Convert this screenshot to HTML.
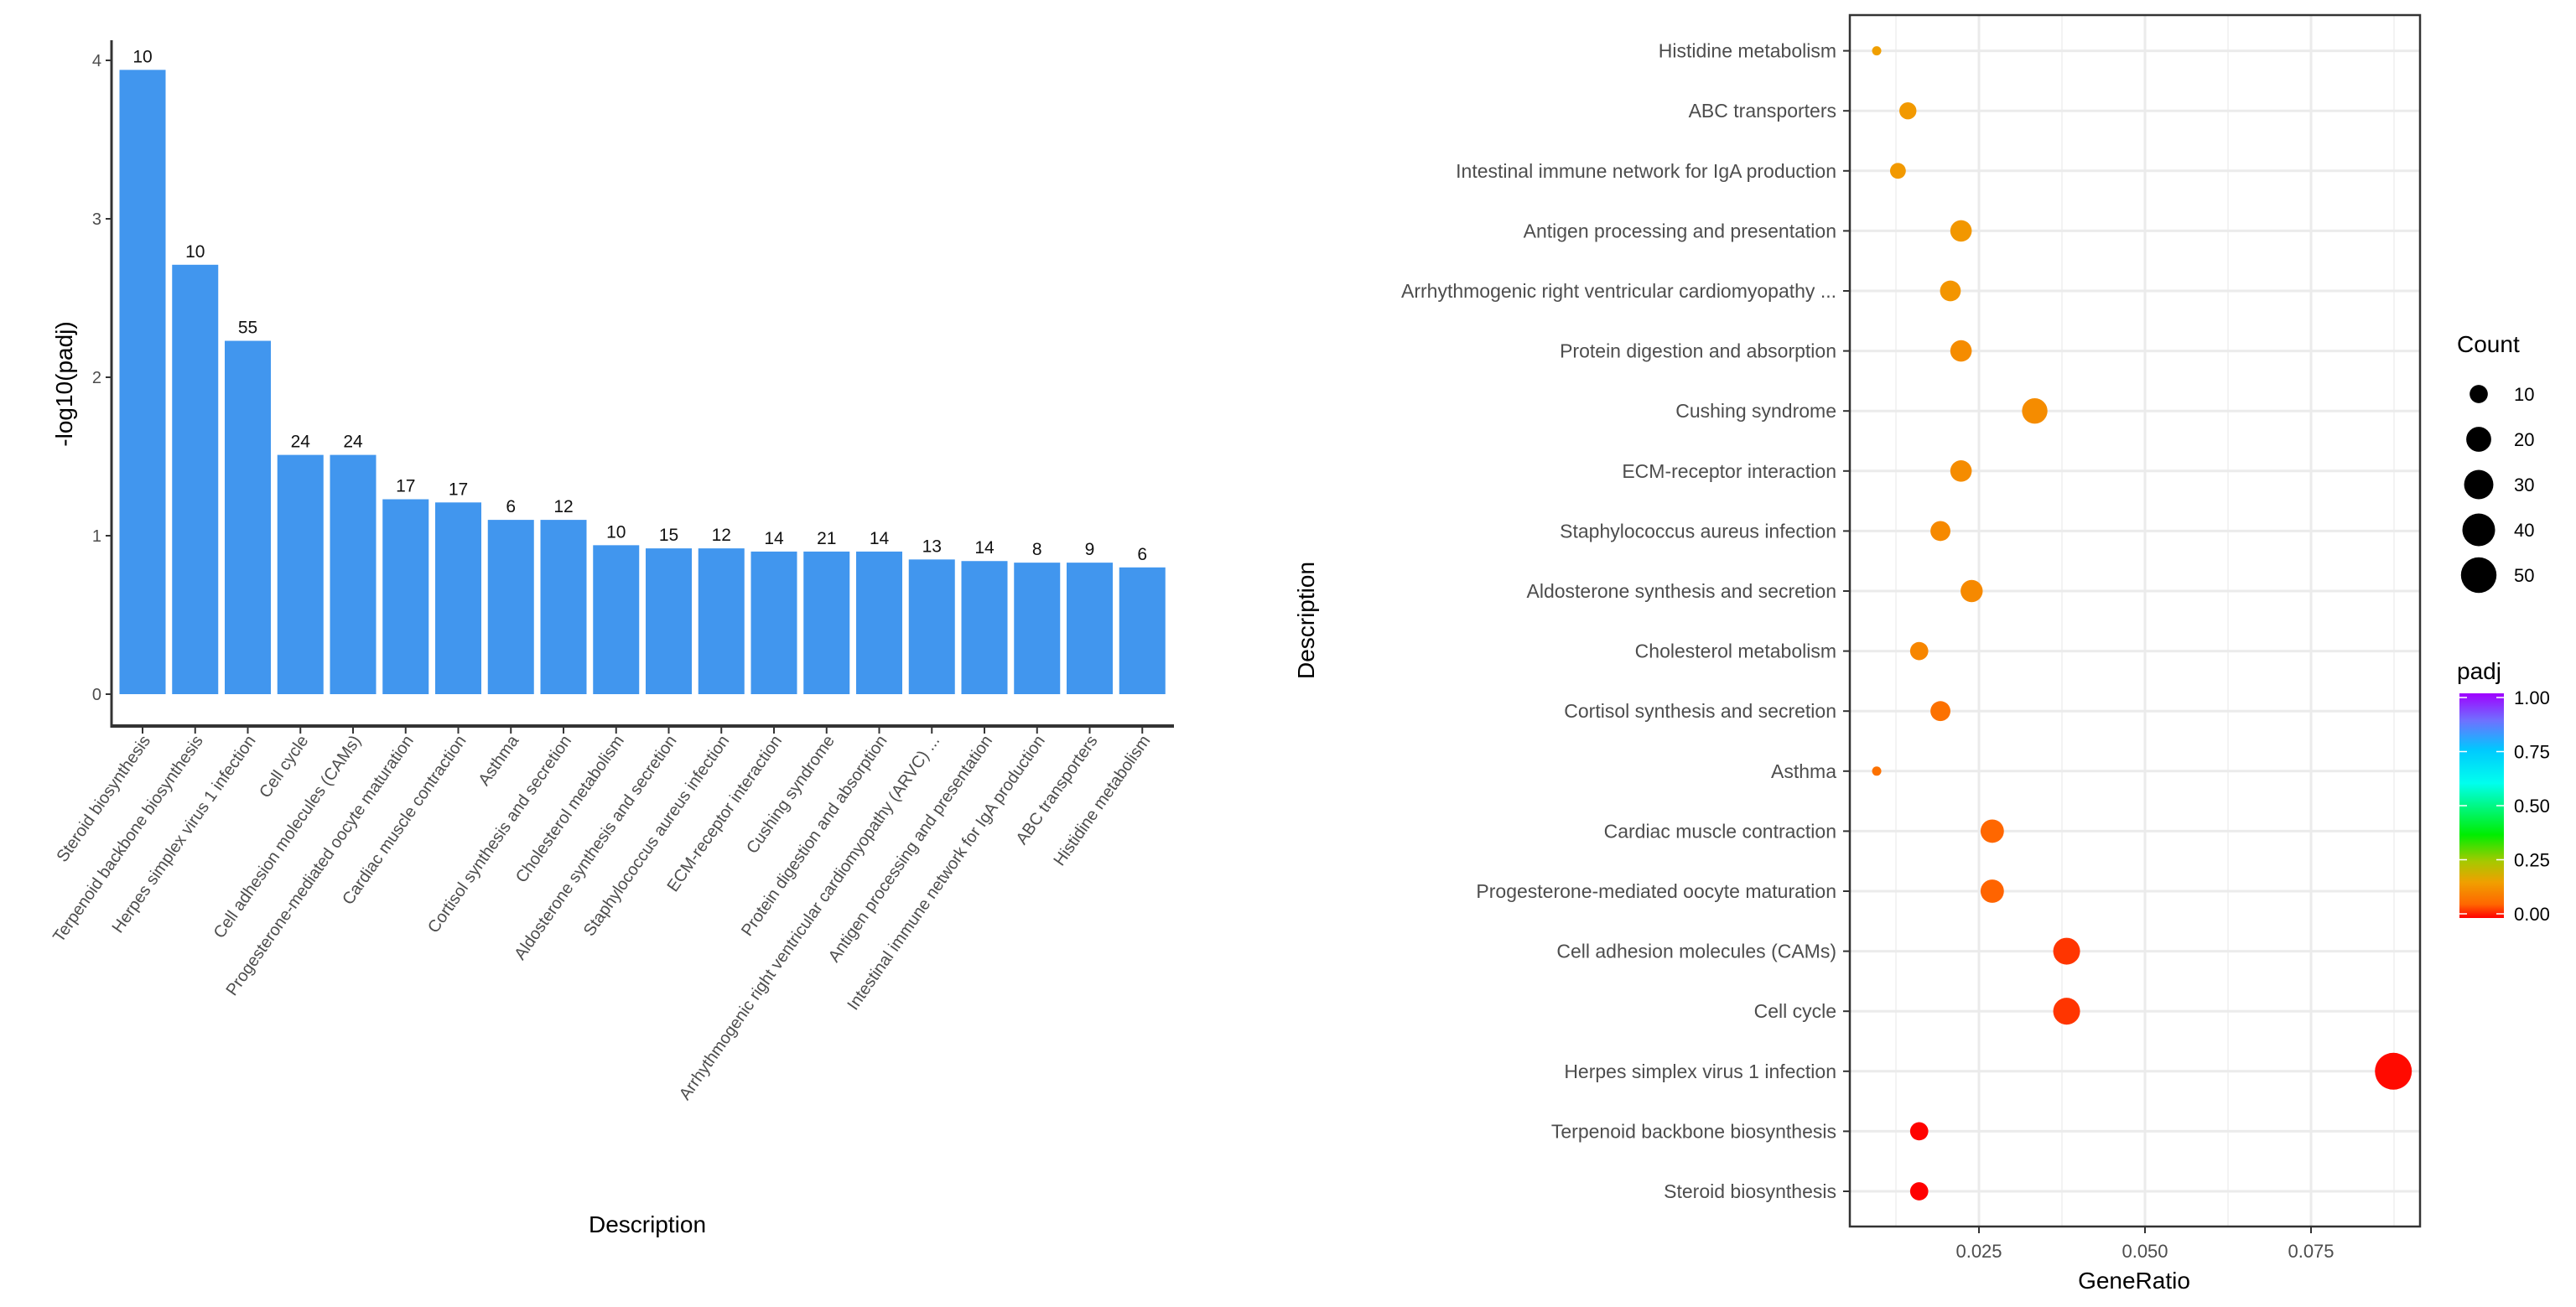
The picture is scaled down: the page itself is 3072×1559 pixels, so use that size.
<!DOCTYPE html>
<html><head><meta charset="utf-8"><style>
html,body{margin:0;padding:0;background:#fff;}
svg{display:block;font-family:"Liberation Sans",Arial,sans-serif;}
</style></head><body>
<svg id="chart" width="3072" height="1559" viewBox="0 0 3072 1559" xmlns="http://www.w3.org/2000/svg">
<defs>
<linearGradient id="padjGrad" x1="0" y1="1" x2="0" y2="0">
<stop offset="0" stop-color="#ff0000"/><stop offset="0.06" stop-color="#ff6600"/><stop offset="0.16" stop-color="#f0a000"/><stop offset="0.25" stop-color="#a8c800"/><stop offset="0.37" stop-color="#00ee00"/><stop offset="0.6" stop-color="#00ffee"/><stop offset="0.75" stop-color="#00c8ff"/><stop offset="0.88" stop-color="#7070ff"/><stop offset="1" stop-color="#a000ff"/>
</linearGradient>
</defs>
<g id="bar"></g>
<g id="dot"></g>
</svg>
<script>
const categories = ["Steroid biosynthesis","Terpenoid backbone biosynthesis","Herpes simplex virus 1 infection","Cell cycle","Cell adhesion molecules (CAMs)","Progesterone-mediated oocyte maturation","Cardiac muscle contraction","Asthma","Cortisol synthesis and secretion","Cholesterol metabolism","Aldosterone synthesis and secretion","Staphylococcus aureus infection","ECM-receptor interaction","Cushing syndrome","Protein digestion and absorption","Arrhythmogenic right ventricular cardiomyopathy (ARVC) ...","Antigen processing and presentation","Intestinal immune network for IgA production","ABC transporters","Histidine metabolism"];
const dotLabels = ["Steroid biosynthesis","Terpenoid backbone biosynthesis","Herpes simplex virus 1 infection","Cell cycle","Cell adhesion molecules (CAMs)","Progesterone-mediated oocyte maturation","Cardiac muscle contraction","Asthma","Cortisol synthesis and secretion","Cholesterol metabolism","Aldosterone synthesis and secretion","Staphylococcus aureus infection","ECM-receptor interaction","Cushing syndrome","Protein digestion and absorption","Arrhythmogenic right ventricular cardiomyopathy ...","Antigen processing and presentation","Intestinal immune network for IgA production","ABC transporters","Histidine metabolism"];
const negLogPadj = [3.94,2.71,2.23,1.51,1.51,1.23,1.21,1.10,1.10,0.94,0.92,0.92,0.90,0.90,0.90,0.85,0.84,0.83,0.83,0.80];
const counts = [10,10,55,24,24,17,17,6,12,10,15,12,14,21,14,13,14,8,9,6];
const geneRatio = [0.0160,0.0160,0.0874,0.0382,0.0382,0.0270,0.0270,0.0096,0.0192,0.0160,0.0239,0.0192,0.0223,0.0334,0.0223,0.0207,0.0223,0.0128,0.0143,0.0096];
const yTicks = [0,1,2,3,4];
const xTicks = [0.025,0.050,0.075];
const xTickLabels = ["0.025","0.050","0.075"];
const xMinor = [0.0125,0.0375,0.0625,0.0875];
const sizeLegend = [10,20,30,40,50];
const padjTicks = [0,0.25,0.5,0.75,1];
const padjTickLabels = ["0.00","0.25","0.50","0.75","1.00"];

const NS="http://www.w3.org/2000/svg";
function mk(tag, attrs, parent, text){const e=document.createElementNS(NS,tag);for(const k in attrs)e.setAttribute(k,attrs[k]);if(text!==undefined)e.textContent=text;parent.appendChild(e);return e;}

// ---------- Bar chart ----------
const bar=document.getElementById('bar');
const bx0=170, bstep=62.75, bw=55;
const by0=828, byUnit=189;
const bxPos=i=>bx0+i*bstep;
const byPos=v=>by0-v*byUnit;
let e=mk('line',{x1:133,y1:48,x2:133,y2:868,stroke:'#333',"stroke-width":3},bar);

e=mk('line',{x1:131.5,y1:866,x2:1400,y2:866,stroke:'#333',"stroke-width":4},bar);

yTicks.forEach(t=>{
  const y=byPos(t);
  let l=mk('line',{x1:126,y1:y,x2:133,y2:y,stroke:'#333',"stroke-width":2},bar);
  
  let tx=mk('text',{x:121,y:y+7,"text-anchor":"end","font-size":20,fill:'#4d4d4d'},bar,String(t));
  
});
categories.forEach((c,i)=>{
  const x=bxPos(i), v=negLogPadj[i];
  let r=mk('rect',{x:x-bw/2,y:byPos(v),width:bw,height:by0-byPos(v),fill:'#4196ee'},bar);
  
  let lb=mk('text',{x:x,y:byPos(v)-9,"text-anchor":"middle","font-size":21,fill:'#111'},bar,String(counts[i]));
  
  let tk=mk('line',{x1:x,y1:866,x2:x,y2:875,stroke:'#333',"stroke-width":2},bar);
  
  let tl=mk('text',{x:0,y:0,"text-anchor":"end","font-size":20,fill:'#4d4d4d',transform:`translate(${x+10},${883}) rotate(-55)`},bar,c);
  
});
e=mk('text',{x:0,y:0,"text-anchor":"middle","font-size":28,fill:'#000',transform:'translate(86,458) rotate(-90)'},bar,'-log10(padj)');

e=mk('text',{x:772,y:1470,"text-anchor":"middle","font-size":28,fill:'#000'},bar,'Description');


// ---------- Dot chart ----------
const dot=document.getElementById('dot');
const pL=2206,pR=2886,pT=18,pB=1463;
const xPos=v=>2360+(v-0.025)*7920;
const rowY=i=>1421-i*71.6;
function colorStops(){return [[0,[255,0,0]],[0.06,[255,102,0]],[0.16,[240,160,0]],[0.25,[168,200,0]],[0.37,[0,238,0]],[0.6,[0,255,238]],[0.75,[0,200,255]],[0.88,[112,112,255]],[1,[160,0,255]]];}
function padjColor(p){const s=colorStops();for(let k=1;k<s.length;k++){if(p<=s[k][0]){const t=(p-s[k-1][0])/(s[k][0]-s[k-1][0]);const c=s[k-1][1].map((a,j)=>Math.round(a+(s[k][1][j]-a)*t));return `rgb(${c})`;}}return 'rgb(160,0,255)';}
const rad=c=>5.5+16.5*Math.pow(Math.max(c-6,0)/49,0.45);
e=mk('rect',{x:pL,y:pT,width:pR-pL,height:pB-pT,fill:'#fff'},dot);

xMinor.forEach(v=>{const x=xPos(v);if(x>pL&&x<pR){let g=mk('line',{x1:x,y1:pT,x2:x,y2:pB,stroke:'#f3f3f3',"stroke-width":2},dot);}});
xTicks.forEach(v=>{const x=xPos(v);let g=mk('line',{x1:x,y1:pT,x2:x,y2:pB,stroke:'#ebebeb',"stroke-width":3},dot);});
dotLabels.forEach((c,i)=>{const y=rowY(i);let g=mk('line',{x1:pL,y1:y,x2:pR,y2:y,stroke:'#ebebeb',"stroke-width":3},dot);});
dotLabels.forEach((c,i)=>{
  const y=rowY(i);
  let t=mk('line',{x1:2198,y1:y,x2:pL,y2:y,stroke:'#333',"stroke-width":2},dot);
  
  let l=mk('text',{x:2190,y:y+8,"text-anchor":"end","font-size":23,fill:'#4d4d4d'},dot,c);
  
  const p=Math.pow(10,-negLogPadj[i]);
  let ci=mk('circle',{cx:xPos(geneRatio[i]),cy:y,r:rad(counts[i]),fill:padjColor(p)},dot);
  
});
e=mk('rect',{x:pL,y:pT,width:pR-pL,height:pB-pT,fill:'none',stroke:'#333',"stroke-width":2.5},dot);

xTicks.forEach((v,k)=>{const x=xPos(v);
  let t=mk('line',{x1:x,y1:pB,x2:x,y2:pB+8,stroke:'#333',"stroke-width":2},dot);
  let l=mk('text',{x:x,y:pB+37,"text-anchor":"middle","font-size":22,fill:'#4d4d4d'},dot,xTickLabels[k]);});
e=mk('text',{x:2545,y:1537,"text-anchor":"middle","font-size":28,fill:'#000'},dot,'GeneRatio');

e=mk('text',{x:0,y:0,"text-anchor":"middle","font-size":28,fill:'#000',transform:'translate(1567,740) rotate(-90)'},dot,'Description');

// size legend
e=mk('text',{x:2930,y:420,"font-size":28,fill:'#000'},dot,'Count');

sizeLegend.forEach((c,k)=>{const y=470+k*54;
  let ci=mk('circle',{cx:2956,cy:y,r:rad(c),fill:'#000'},dot);
  let l=mk('text',{x:2998,y:y+8,"font-size":22,fill:'#000'},dot,String(c));});
// color legend
e=mk('text',{x:2930,y:810,"font-size":28,fill:'#000'},dot,'padj');

const cbT=827,cbB=1095;
e=mk('rect',{x:2933,y:cbT,width:53,height:cbB-cbT,fill:'url(#padjGrad)'},dot);

padjTicks.forEach((v,k)=>{const y=cbB-5-v*(cbB-cbT-10);
  let t=mk('line',{x1:2933,y1:y,x2:2942,y2:y,stroke:'#fff',"stroke-width":1.5},dot);
  let t2=mk('line',{x1:2977,y1:y,x2:2986,y2:y,stroke:'#fff',"stroke-width":1.5},dot);
  let l=mk('text',{x:2998,y:y+8,"font-size":22,fill:'#000'},dot,padjTickLabels[k]);});
</script>
</body></html>
